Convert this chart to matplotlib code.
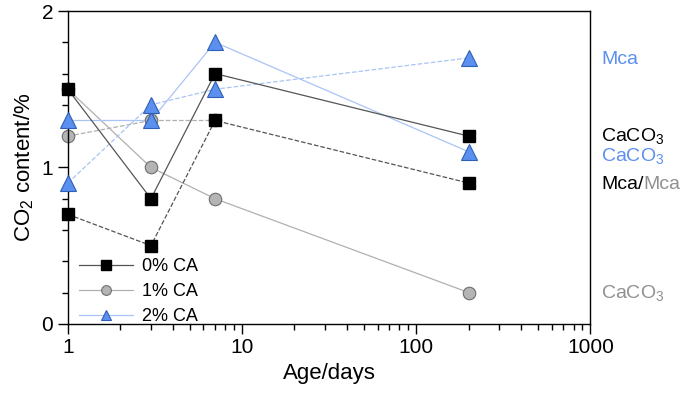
import numpy as np
import matplotlib
matplotlib.use('Agg')
import matplotlib.pyplot as plt
from matplotlib.ticker import MultipleLocator, LogLocator, NullFormatter

plt.rcParams['font.family'] = 'Liberation Sans'
plt.rcParams['mathtext.fontset'] = 'custom'
plt.rcParams['mathtext.rm'] = 'Liberation Sans'
plt.rcParams['mathtext.it'] = 'Liberation Sans'

#%% data
age = [1, 3, 7, 200]

ca0_solid = [1.5, 0.8, 1.6, 1.2]
ca0_dash = [0.7, 0.5, 1.3, 0.9]

ca1_solid = [1.5, 1.0, 0.8, 0.2]
ca1_dash = [1.2, 1.3, 1.3]

ca2_solid = [1.3, 1.3, 1.8, 1.1]
ca2_dash = [0.9, 1.4, 1.5, 1.7]

side_labels = ['Mca', 'CaCO$_3$', 'CaCO$_3$', 'CaCO$_3$']
side_y = [1.69, 1.2, 1.07, 0.2]

#%% styles
blk_line = '#555555'
gry_line = '#b0b0b0'
blu_line = '#a9c4f5'
blu_face = '#5b8ff0'
blu_edge = '#2f5fb5'
gry_face = '#b4b4b4'
gry_edge = '#6e6e6e'

fig = plt.figure(figsize=(6.85, 3.93), dpi=100)
ax = fig.add_axes([0.099, 0.176, 0.763, 0.796])

# lines first, markers on top
ax.plot(age, ca1_solid, '-', color=gry_line, lw=0.9, zorder=1)
ax.plot(age[:3], ca1_dash, '--', color=gry_line, lw=0.9, zorder=1)
ax.plot(age, ca2_solid, '-', color=blu_line, lw=0.9, zorder=1)
ax.plot(age, ca2_dash, '--', color=blu_line, lw=0.9, zorder=1)
ax.plot(age, ca0_solid, '-', color=blk_line, lw=0.9, zorder=1)
ax.plot(age, ca0_dash, '--', color=blk_line, lw=0.9, zorder=1)

ax.plot(age, ca1_solid, 'o', ms=9, mfc=gry_face, mec=gry_edge, mew=0.8, zorder=2, clip_on=False)
ax.plot(age[:3], ca1_dash, 'o', ms=9, mfc=gry_face, mec=gry_edge, mew=0.8, zorder=2, clip_on=False)
ax.plot(age, ca2_solid, '^', ms=11, mfc=blu_face, mec=blu_edge, mew=0.8, zorder=3, clip_on=False)
ax.plot(age, ca2_dash, '^', ms=11, mfc=blu_face, mec=blu_edge, mew=0.8, zorder=3, clip_on=False)
ax.plot(age, ca0_solid, 's', ms=9, mfc='black', mec='black', zorder=4, clip_on=False)
ax.plot(age, ca0_dash, 's', ms=9, mfc='black', mec='black', zorder=4, clip_on=False)

# legend handles
h0, = ax.plot([], [], '-s', color=blk_line, lw=0.9, ms=7, mfc='black', mec='black')
h1, = ax.plot([], [], '-o', color=gry_line, lw=0.9, ms=7, mfc=gry_face, mec=gry_edge, mew=0.8)
h2, = ax.plot([], [], '-^', color=blu_line, lw=0.9, ms=7, mfc=blu_face, mec=blu_edge, mew=0.8)
ax.legend([h0, h1, h2], ['0% CA', '1% CA', '2% CA'], loc='lower left',
          frameon=False, fontsize=13, handlelength=3.0, handletextpad=0.5,
          labelspacing=0.45, borderaxespad=0.0, borderpad=0.1,
          bbox_to_anchor=(0.018, -0.01))

ax.set_xscale('log')
ax.set_xlim(1, 1000)
ax.set_ylim(0, 2)
ax.xaxis.set_major_locator(LogLocator(base=10))
ax.xaxis.set_minor_locator(LogLocator(base=10, subs=np.arange(2, 10)))
ax.xaxis.set_minor_formatter(NullFormatter())
ax.set_xticks([1, 10, 100, 1000])
ax.set_xticklabels(['1', '10', '100', '1000'])
ax.yaxis.set_major_locator(MultipleLocator(1))
ax.yaxis.set_minor_locator(MultipleLocator(0.2))
ax.tick_params(which='both', direction='out', top=False, right=False, labelsize=15, width=1)
ax.tick_params(which='major', length=7)
ax.tick_params(which='minor', length=4)
for s in ax.spines.values():
    s.set_linewidth(1)

ax.set_xlabel('Age/days', fontsize=16)
ax.set_ylabel('CO$_2$ content/%', fontsize=16)

# right-side annotations
tr = ax.get_yaxis_transform()
cols = [blu_face, 'black', blu_face, '#909090']
for lab, yy, c in zip(side_labels, side_y, cols):
    ax.text(1.02, yy, lab, color=c, fontsize=14, transform=tr, va='center', ha='left')
ax.text(1.02, 0.89, 'Mca/', color='black', fontsize=14, transform=tr, va='center', ha='left')
ax.text(1.101, 0.89, 'Mca', color='#909090', fontsize=14, transform=tr, va='center', ha='left')

plt.savefig('out.png', dpi=100)
